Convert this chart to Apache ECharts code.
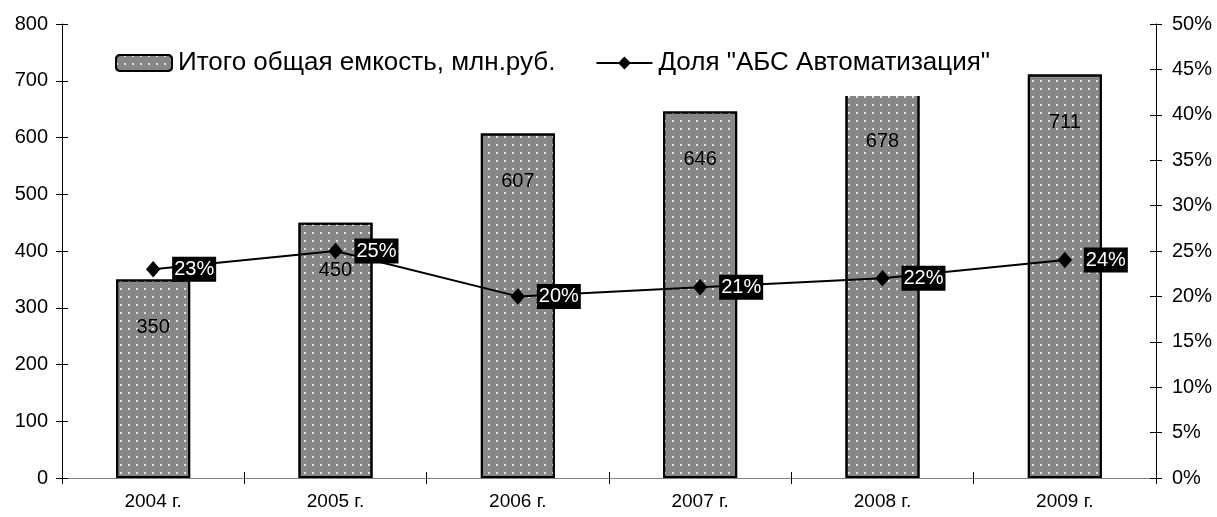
<!DOCTYPE html>
<html>
<head>
<meta charset="utf-8">
<script src="https://cdn.jsdelivr.net/npm/echarts@6/dist/echarts.min.js"></script>
<style>
html,body{margin:0;padding:0;background:#fff;}
#chart{width:1217px;height:517px;}
</style>
</head>
<body>
<div id="chart"></div>
<script>
var categories = ['2004 г.', '2005 г.', '2006 г.', '2007 г.', '2008 г.', '2009 г.'];
var capacity = [350, 450, 607, 646, 678, 711];
var share = [23, 25, 20, 21, 22, 24];
var barName = 'Итого общая емкость, млн.руб.';
var lineName = 'Доля "АБС Автоматизация"';

var FONT = 'Arial, "Liberation Sans", sans-serif';
var chart = echarts.init(document.getElementById('chart'), null, {renderer: 'canvas'});

var option = {
  backgroundColor: '#fff',
  animation: false,
  textStyle: {fontFamily: FONT, color: '#000'},
  grid: {left: 62, right: 61, top: 24, bottom: 39},
  legend: {
    left: 110, top: 30,
    padding: [20, 12, 20, 5],
    backgroundColor: '#fff',
    itemWidth: 56, itemHeight: 16, itemGap: 40,
    textStyle: {fontFamily: FONT, fontSize: 26, color: '#000', padding: [0, 0, 0, 1]},
    data: [barName, lineName]
  },
  xAxis: [{
    type: 'category', data: categories, boundaryGap: true,
    axisLine: {lineStyle: {color: '#808080', width: 1}},
    axisTick: {show: true, length: 6, lineStyle: {color: '#000'}},
    axisLabel: {fontFamily: FONT, fontSize: 19, color: '#000', margin: 14}
  }, {
    type: 'category', data: categories, boundaryGap: true, position: 'bottom',
    axisLine: {show: false},
    axisTick: {show: true, inside: true, length: 6, lineStyle: {color: '#000'}},
    axisLabel: {show: false}
  }],
  yAxis: [{
    type: 'value', min: 0, max: 800, interval: 100, position: 'left',
    axisLine: {show: true, lineStyle: {color: '#000'}},
    axisTick: {show: true, length: 6, lineStyle: {color: '#000'}},
    axisLabel: {fontFamily: FONT, fontSize: 20, color: '#000', margin: 14},
    splitLine: {show: false}
  }, {
    type: 'value', min: 0, max: 50, interval: 5, position: 'right',
    axisLine: {show: true, lineStyle: {color: '#000'}},
    axisTick: {show: true, length: 6, lineStyle: {color: '#000'}},
    axisLabel: {fontFamily: FONT, fontSize: 20, color: '#000', margin: 16, formatter: '{value}%'},
    splitLine: {show: false}
  }, {
    type: 'value', min: 0, max: 800, interval: 100, position: 'left',
    axisLine: {show: false},
    axisTick: {show: true, inside: true, length: 6, lineStyle: {color: '#000'}},
    axisLabel: {show: false}, splitLine: {show: false}
  }, {
    type: 'value', min: 0, max: 50, interval: 5, position: 'right',
    axisLine: {show: false},
    axisTick: {show: true, inside: true, length: 6, lineStyle: {color: '#000'}},
    axisLabel: {show: false}, splitLine: {show: false}
  }],
  series: [{
    name: barName, type: 'bar', data: capacity, yAxisIndex: 0,
    barWidth: 74,
    itemStyle: {
      color: '#878787', borderColor: '#000', borderWidth: 2,
      decal: {symbol: 'rect', symbolSize: 1, dashArrayX: [1.5, 6], dashArrayY: [1.5, 6],
              color: 'rgba(255,255,255,0.75)', rotation: 0}
    },
    label: {show: true, position: 'insideTop', distance: 38, fontFamily: FONT, fontSize: 20, color: '#000'},
    z: 2
  }, {
    name: lineName, type: 'line', data: share, yAxisIndex: 1,
    symbol: 'diamond', symbolSize: [13, 15],
    lineStyle: {color: '#000', width: 2},
    itemStyle: {color: '#000', borderColor: '#000'},
    label: {show: true, position: 'right', distance: 12, formatter: '{c}%',
            fontFamily: FONT, fontSize: 20, color: '#fff', backgroundColor: '#000', padding: [3, 2, 2, 2]},
    z: 3
  }]
};
chart.setOption(option);
</script>
</body>
</html>
